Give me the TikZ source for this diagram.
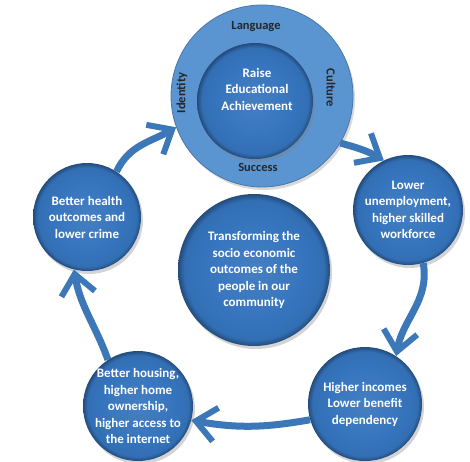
\documentclass[tikz,border=0pt]{standalone}
\usepackage{fontspec}
\setmainfont{Carlito}
\usetikzlibrary{arrows.meta,shadows}
\definecolor{discblue}{HTML}{3574BD}
\definecolor{ringblue}{HTML}{5B95D1}
\definecolor{flowblue}{HTML}{3C78B8}
\pgfdeclareradialshading{disc}{\pgfpoint{0bp}{0bp}}{color(0bp)=(discblue!92!white); color(17bp)=(discblue); color(23bp)=(discblue!95!black); color(25bp)=(discblue!65!black); color(50bp)=(discblue!65!black)}
\tikzstyle{bubble}=[circle,shading=disc,inner sep=-8pt,align=center,text=white,font=\fontsize{13}{16.5}\selectfont\bfseries,drop shadow={opacity=0.35,shadow xshift=2pt,shadow yshift=-3pt}]
\tikzstyle{outerring}=[circle,fill=ringblue,draw=ringblue!80!black,line width=0.8pt,minimum size=182pt,drop shadow={opacity=0.3,shadow xshift=2pt,shadow yshift=-3pt}]
\tikzstyle{wtext}=[align=center,text=white,font=\fontsize{13}{16.5}\selectfont\bfseries]
\tikzstyle{ringtext}=[text=black!85,font=\fontsize{12.5}{14}\selectfont\bfseries]
\tikzstyle{flow}=[line width=7pt,flowblue,-{Straight Barb[length=20pt,width=34pt,line width=6pt]}]

\begin{document}
\begin{tikzpicture}[x=1pt,y=1pt]
\useasboundingbox (0,0) rectangle (470,461);
\node[outerring] at (262,365) (ring) {};
\node[bubble,minimum size=116pt] at (255,360) (core) {};
\node[wtext] at (257,372) (raise) {Raise\\Educational\\Achievement};
\node[ringtext] at (256,434) (lang) {Language};
\node[ringtext] at (258,294) (succ) {Success};
\node[ringtext,rotate=90] at (182,368) (iden) {Identity};
\node[ringtext,rotate=-90] at (331,373) (cult) {Culture};
\node[bubble,minimum size=152pt] at (254,191) (c) {Transforming the\\socio economic\\outcomes of the\\people in our\\community};
\node[bubble,minimum size=108pt] at (87,244) (l) {Better health\\outcomes and\\lower crime};
\node[bubble,minimum size=110pt] at (408,251) (r) {Lower\\unemployment,\\higher skilled\\workforce};
\node[bubble,minimum size=114pt] at (365,57) (br) {Higher incomes\\Lower benefit\\dependency};
\node[bubble,minimum size=110pt] at (138,55) (bl) {Better housing,\\higher home\\ownership,\\higher access to\\the internet};
\draw[flow] (ring.-31) to[out=-15,in=150] (r.116);
\draw[flow] (r.-74) to[out=-80,in=80] (br.57);
\draw[flow] (br.196) to[out=190,in=-10] (bl.-15);
\draw[flow] (bl.123) to[out=110,in=-80] (l.-104);
\draw[flow] (l.57) to[out=65,in=-150] (ring.200);
\end{tikzpicture}
\end{document}
